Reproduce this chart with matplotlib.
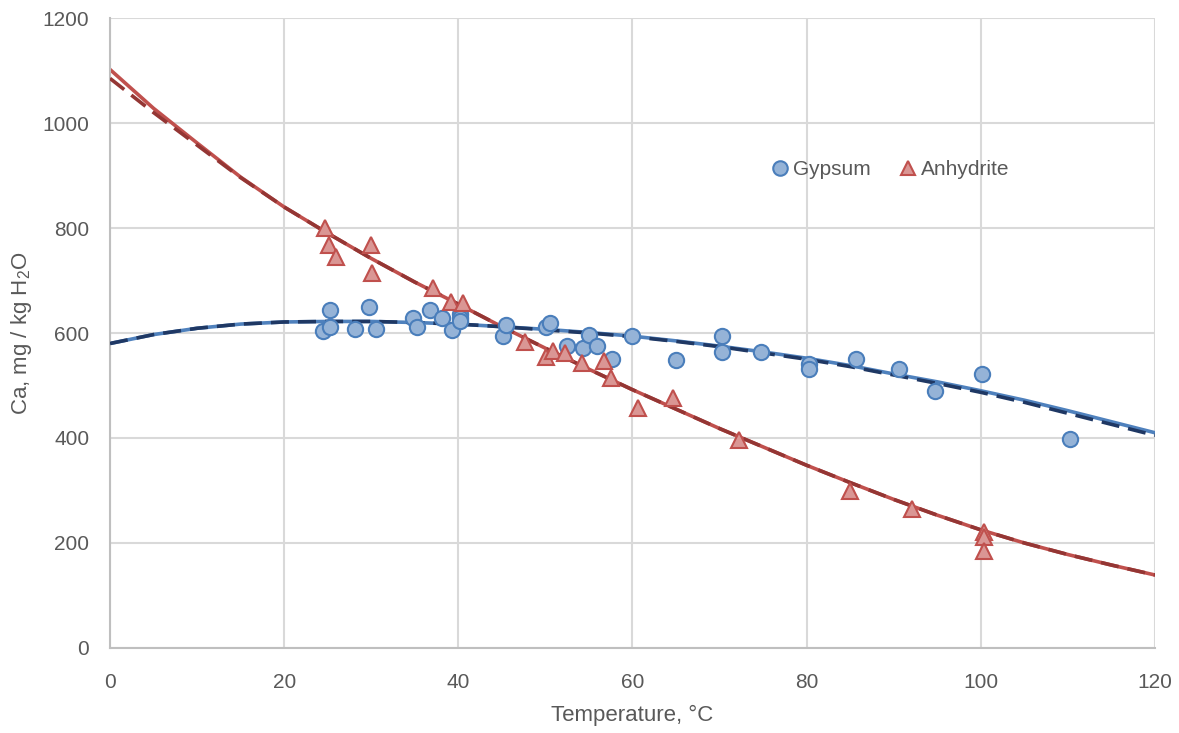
import numpy as np
import matplotlib
matplotlib.use('Agg')
import matplotlib.pyplot as plt

plt.rcParams['font.family'] = ['Liberation Sans', 'DejaVu Sans']
plt.rcParams['mathtext.default'] = 'regular'

# measured points
gyp_t = [24.5, 25.3, 25.3, 28.1, 29.8, 30.6, 34.8, 35.2, 36.8, 38.1, 39.3, 40.2, 40.2, 40.2,
         45.1, 45.5, 50.1, 50.5, 52.5, 54.3, 55.0, 55.9, 57.6, 60.0, 65.0, 70.3, 70.3,
         74.8, 80.3, 80.3, 85.7, 90.6, 94.7, 100.1, 110.2]
gyp_ca = [604, 612, 643, 608, 650, 607, 629, 612, 643, 628, 606, 637, 628, 622,
          595, 615, 612, 620, 575, 571, 596, 575, 550, 594, 549, 595, 564,
          563, 540, 531, 550, 531, 490, 521, 398]
anh_t = [24.7, 25.1, 26.0, 30.0, 30.1, 37.1, 39.2, 40.5, 47.7, 50.1, 50.9, 52.3, 54.2,
         56.7, 57.5, 60.6, 64.6, 72.2, 85.0, 92.1, 100.4, 100.4, 100.4]
anh_ca = [800, 768, 744, 768, 714, 685, 660, 657, 582, 555, 566, 562, 542,
          547, 515, 457, 476, 397, 299, 264, 220, 211, 185]

# fitted curves
fit_t = [0, 5, 10, 15, 20, 25, 30, 35, 40, 45, 50, 55, 60, 65, 70, 75, 80, 85, 90,
         95, 100, 105, 110, 115, 120]
gyp_fit1 = [580, 597, 609, 617, 621, 622, 622, 620, 617, 612, 607, 601, 594, 585, 575,
            564, 552, 538, 522, 507, 490, 472, 452, 431, 410]
gyp_fit2 = [580, 597, 609, 617, 621, 622, 622, 620, 617, 612, 606, 600, 593, 584, 574,
            562, 550, 536, 520, 504, 487, 468, 447, 426, 405]
anh_fit1 = [1102, 1028, 962, 897, 840, 790, 742, 697, 655, 612, 571, 531, 492, 455,
            418, 383, 348, 315, 283, 253, 225, 200, 178, 158, 139]
anh_fit2 = [1085, 1020, 958, 896, 840, 790, 742, 697, 655, 612, 571, 531, 492, 455,
            418, 383, 348, 315, 283, 253, 225, 200, 178, 158, 139]

fig = plt.figure(figsize=(11.79, 7.33), dpi=100)
ax = fig.add_axes([0.0933, 0.116, 0.8863, 0.8594])

ax.plot(fit_t, gyp_fit1, color='#4F81BD', lw=2.6, zorder=2)
ax.plot(fit_t, gyp_fit2, color='#1F3864', lw=2.6, ls=(0, (5, 2.5)), zorder=3)
ax.plot(fit_t, anh_fit1, color='#C0504D', lw=2.6, zorder=2)
ax.plot(fit_t, anh_fit2, color='#943634', lw=2.6, ls=(0, (5, 2.5)), zorder=3)

ax.plot(gyp_t, gyp_ca, 'o', ms=11, mfc='#95B3D7', mec='#4A7EBB', mew=1.5, ls='none',
        label='Gypsum', zorder=4)
ax.plot(anh_t, anh_ca, '^', ms=11, mfc='#DA9694', mec='#C0504D', mew=1.5, ls='none',
        label='Anhydrite', zorder=4)

ax.set_xlim(0, 120)
ax.set_ylim(0, 1200)
ax.set_xticks(range(0, 121, 20))
ax.set_yticks(range(0, 1201, 200))
ax.grid(True, color='#D9D9D9', lw=1.5)
ax.set_axisbelow(True)
for s in ['top', 'right']:
    ax.spines[s].set_visible(False)
for s in ['left', 'bottom']:
    ax.spines[s].set_color('#BFBFBF')
    ax.spines[s].set_linewidth(1.5)
ax.tick_params(length=0, labelsize=15, colors='#595959')
ax.tick_params(axis='x', pad=18)
ax.tick_params(axis='y', pad=15)

ax.set_xlabel('Temperature, °C', fontsize=16, color='#595959', labelpad=9)
ax.set_ylabel('Ca, mg / kg H$_2$O', fontsize=16, color='#595959', labelpad=6)

leg = ax.legend(loc='center', bbox_to_anchor=(0.745, 0.759), ncol=2, frameon=False,
                fontsize=15, handletextpad=0.0, columnspacing=1.2, markerscale=0.95,
                handlelength=1.2, labelcolor='#595959')

fig.savefig('out.png', dpi=100)
